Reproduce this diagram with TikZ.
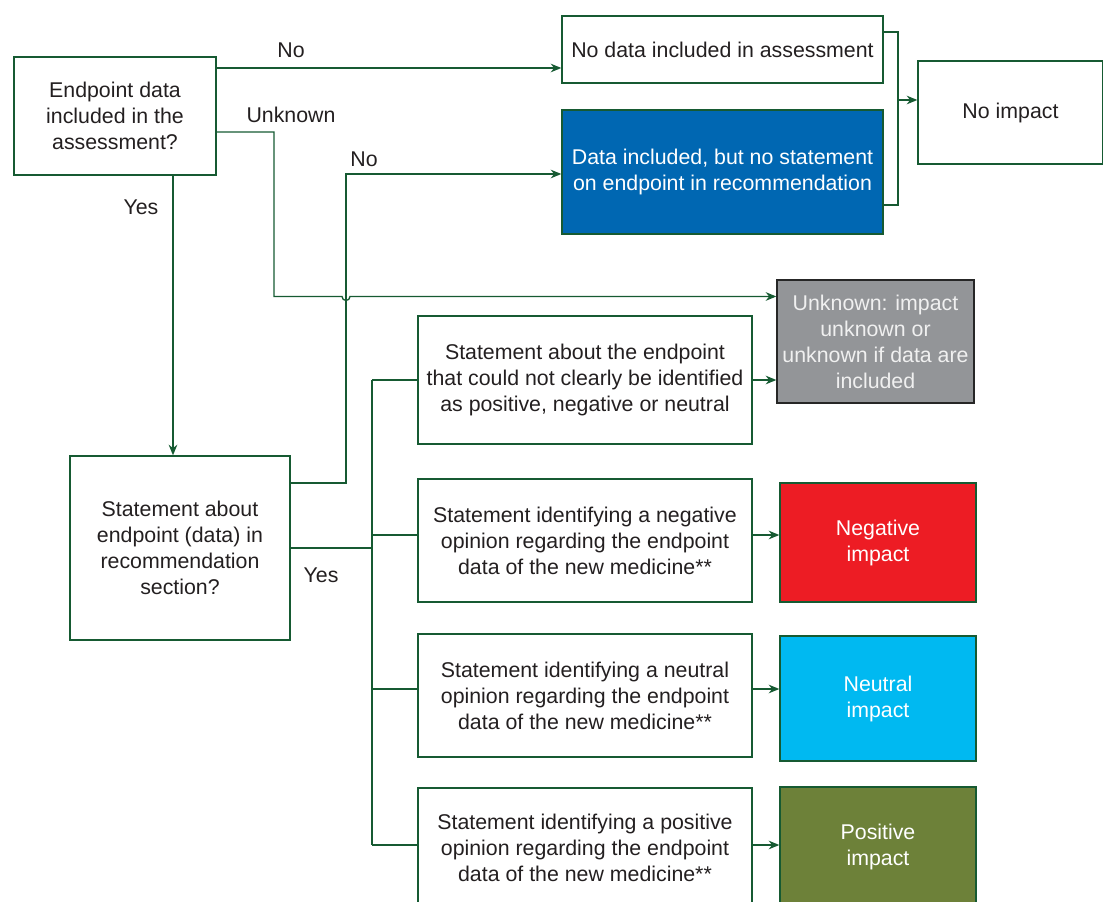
\documentclass[tikz,border=0pt]{standalone}
\usepackage{fontspec}
\setmainfont{Liberation Sans}
\usetikzlibrary{arrows.meta}
\definecolor{lgreen}{RGB}{22,90,50}
\definecolor{txt}{RGB}{35,31,32}
\definecolor{cblue}{RGB}{0,103,178}
\definecolor{cgray}{RGB}{147,149,152}
\definecolor{cred}{RGB}{237,28,36}
\definecolor{ccyan}{RGB}{0,185,241}
\definecolor{colive}{RGB}{109,129,57}
\tikzset{
  box/.style={draw=lgreen, line width=1pt, rectangle, inner sep=0pt, align=center,
    text=txt, font=\fontsize{16}{19.5}\selectfont},
  wbox/.style={box, text=white},
  conn/.style={draw=lgreen, line width=1pt},
  arr/.style={conn, -{Stealth[length=8pt,width=6.5pt]}},
  lbl/.style={text=txt, font=\fontsize{16}{19.5}\selectfont, inner sep=0pt}
}
\begin{document}
\begin{tikzpicture}[x=0.75pt,y=-0.75pt]
\useasboundingbox (0,0) rectangle (1103,902);
% boxes
\node[box, minimum width=151.5pt, minimum height=88.5pt] (A) at (115,116) {Endpoint data\\included in the\\assessment?};
\node[box, minimum width=240.75pt, minimum height=50.25pt] (B) at (722.5,49.5) {No data included in assessment};
\node[wbox, fill=cblue, minimum width=240.75pt, minimum height=93pt] (C) at (722.5,172) {Data included, but no statement\\on endpoint in recommendation};
\node[box, minimum width=138.75pt, minimum height=77.25pt] (N) at (1010.5,112.5) {No impact};
\node[box, draw=black!85, fill=cgray, text=white!94!black, minimum width=147.75pt, minimum height=92.25pt] (U) at (875.5,341.5) {Unknown: impact\\unknown or\\unknown if data are\\included};
\node[box, minimum width=165pt, minimum height=138pt] (D) at (180,548) {Statement about\\endpoint (data) in\\recommendation\\section?};
\node[box, minimum width=250.5pt, minimum height=96pt] (E) at (585,380) {Statement about the endpoint\\that could not clearly be identified\\as positive, negative or neutral};
\node[box, minimum width=250.5pt, minimum height=92.25pt] (F) at (585,540.5) {Statement identifying a negative\\opinion regarding the endpoint\\data of the new medicine**};
\node[box, minimum width=250.5pt, minimum height=92.25pt] (G) at (585,695.5) {Statement identifying a neutral\\opinion regarding the endpoint\\data of the new medicine**};
\node[box, minimum width=250.5pt, minimum height=90pt] (H) at (585,848) {Statement identifying a positive\\opinion regarding the endpoint\\data of the new medicine**};
\node[wbox, fill=cred, minimum width=147pt, minimum height=89.25pt] (R) at (878,542.5) {Negative\\impact};
\node[wbox, fill=ccyan, minimum width=147pt, minimum height=93.75pt] (Cy) at (878,698.5) {Neutral\\impact};
\node[wbox, fill=colive, minimum width=147pt, minimum height=90pt] (O) at (878,847) {Positive\\impact};
% helper coordinates
\coordinate (yNo) at (0,68);
\coordinate (yUnk) at (0,132);
\coordinate (xUnk) at (274,0);
\coordinate (yHop) at (0,296.5);
\coordinate (xNo2) at (346,0);
\coordinate (yNo2) at (0,174);
\coordinate (yD) at (0,483);
\coordinate (xYes) at (173,0);
\coordinate (xBr) at (898,0);
\coordinate (yBrT) at (0,32);
\coordinate (yBrB) at (0,205);
\coordinate (yBrM) at (0,100);
\coordinate (xTr) at (372,0);
\coordinate (yDY) at (0,548);
\coordinate (yE) at (0,380);
\coordinate (yF) at (0,535);
\coordinate (yG) at (0,689);
\coordinate (yH) at (0,845);
\coordinate (hopL) at (342,296.5);
% connectors
\draw[arr] (A.east |- yNo) -- (B.west |- yNo);
\draw[arr] (A.east |- yUnk) -- (xUnk |- yUnk) -- (xUnk |- yHop) -- (hopL) arc (180:0:4) -- (U.west |- yHop);
\draw[arr] (D.east |- yD) -- (xNo2 |- yD) -- (xNo2 |- yNo2) -- (C.west |- yNo2);
\draw[arr] (A.south -| xYes) -- (D.north -| xYes);
\draw[conn] (B.east |- yBrT) -- (xBr |- yBrT) -- (xBr |- yBrB) -- (C.east |- yBrB);
\draw[arr] (xBr |- yBrM) -- (N.west |- yBrM);
\draw[conn] (D.east |- yDY) -- (xTr |- yDY);
\draw[conn] (xTr |- yE) -- (xTr |- yH);
\draw[conn] (xTr |- yE) -- (E.west |- yE);
\draw[conn] (xTr |- yF) -- (F.west |- yF);
\draw[conn] (xTr |- yG) -- (G.west |- yG);
\draw[conn] (xTr |- yH) -- (H.west |- yH);
\draw[arr] (E.east |- yE) -- (U.west |- yE);
\draw[arr] (F.east |- yF) -- (R.west |- yF);
\draw[arr] (G.east |- yG) -- (Cy.west |- yG);
\draw[arr] (H.east |- yH) -- (O.west |- yH);
% labels
\node[lbl] (lNo) at (291,50) {No};
\node[lbl] (lUnk) at (291,115) {Unknown};
\node[lbl] (lNo2) at (364,159) {No};
\node[lbl] (lYes) at (141,207) {Yes};
\node[lbl] (lYes2) at (321,575) {Yes};
\end{tikzpicture}
\end{document}
